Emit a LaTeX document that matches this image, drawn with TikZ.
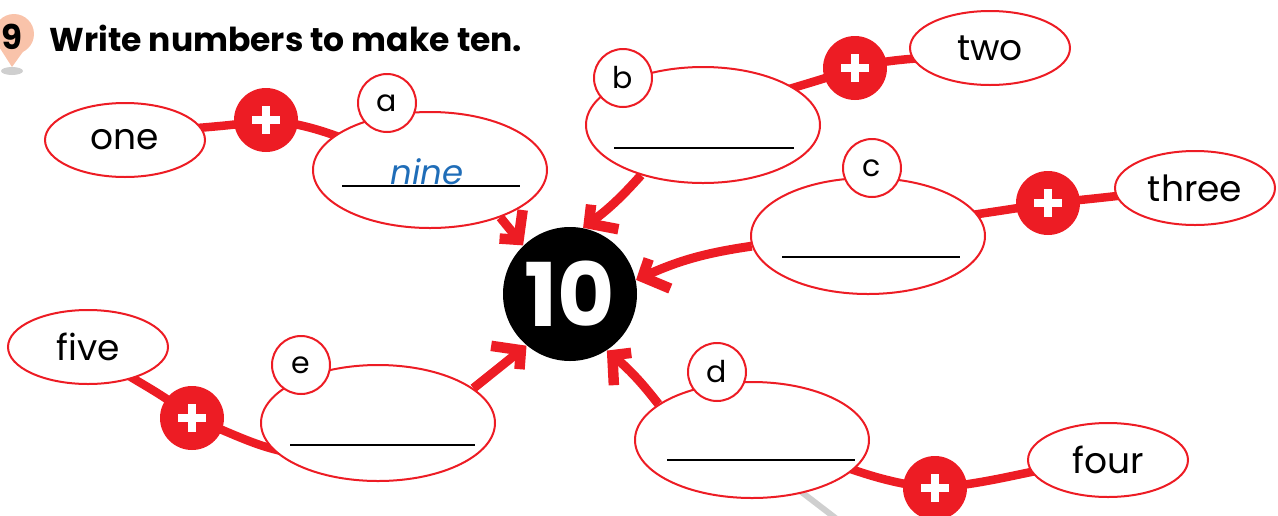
\documentclass[tikz,border=0pt]{standalone}
\usepackage{fontspec}
\setmainfont{Poppins}
\usetikzlibrary{arrows.meta,shapes.geometric,decorations.markings,calc}
\definecolor{myred}{HTML}{ED1C24}
\definecolor{peach}{HTML}{F9C3AA}
\definecolor{pingrey}{HTML}{CFCFCF}
\definecolor{nineblue}{HTML}{1F6DB8}
\pgfdeclarelayer{bg}
\pgfsetlayers{bg,main}
\begin{document}
\begin{tikzpicture}[x=1pt,y=1pt,
  bub/.style={ellipse,draw=myred,line width=2pt,fill=white,inner sep=0pt},
  word/.style={bub,minimum width=160pt,minimum height=74pt,font=\fontsize{36}{36}\selectfont},
  blank/.style={bub,minimum width=234pt,minimum height=116pt},
  lab/.style={circle,draw=myred,line width=2pt,fill=white,minimum size=58pt,inner sep=0pt,font=\fontsize{30}{30}\selectfont},
  plus/.style={circle,fill=myred,minimum size=64pt,inner sep=0pt},
  link/.style={myred,line width=8.5pt},
  arr/.style={myred,line width=9pt,shorten >=11pt,
    postaction={decorate},
    decoration={markings,mark=at position 1 with {
      \draw[myred,line width=10.5pt,line join=miter,miter limit=10,line cap=butt]
        (-28pt,22pt) -- (-7.5pt,0pt) -- (-28pt,-22pt);}}},
  uline/.style={black,line width=1.5pt}
]
\useasboundingbox (0,0) rectangle (1278,-515);
% pin and title
\fill[pingrey] (12,-71) ellipse (11pt and 4pt);
\fill[peach] (14,-34) circle (20pt);
\fill[peach] (-4,-42) -- (12,-67) -- (30,-42) -- cycle;
\node[font=\fontsize{34}{34}\selectfont\bfseries] (num) at (12,-37) {9};
\node[anchor=west,font=\fontsize{33}{33}\selectfont\bfseries] (title) at (46,-38) {Write numbers to make ten.};
% centre
\node[circle,fill=black,minimum size=134pt,inner sep=0pt,text=white,font=\fontsize{88}{88}\selectfont\bfseries] (ten) at (570,-294) {10};
% blank answer ellipses
\node[blank] (a) at (430,-170) {};
\node[blank] (b) at (703,-125) {};
\node[blank] (c) at (868,-236) {};
\node[blank] (d) at (752,-440) {};
\node[blank] (e) at (378,-423) {};
% letter circles
\node[lab] (la) at (387,-103) {a};
\node[lab] (lb) at (623,-78) {b};
\node[lab] (lc) at (872,-168) {c};
\node[lab] (ld) at (717,-372) {d};
\node[lab] (le) at (301,-365) {e};
% answer lines
\draw[uline] (342,-186) -- (520,-186);
\draw[uline] (614,-148) -- (794,-148);
\draw[uline] (782,-257) -- (960,-257);
\draw[uline] (667,-460) -- (855,-460);
\draw[uline] (290,-445) -- (475,-445);
\node[text=nineblue,font=\fontsize{34}{34}\selectfont\itshape,anchor=base] (nine) at (427,-184) {nine};
% plus nodes
\node[plus] (p1) at (266,-120) {};
\node[plus] (p2) at (855,-68) {};
\node[plus] (p3) at (1048,-203) {};
\node[plus] (p4) at (935,-488) {};
\node[plus] (p5) at (192,-418) {};
\foreach \p in {p1,p2,p3,p4,p5}{
  \fill[white] (\p) ++(-14,-4) rectangle ++(28,8);
  \fill[white] (\p) ++(-4,-14) rectangle ++(8,28);
}
% word nodes
\node[word] (one) at (125,-140) {one};
\node[word] (two) at (990,-48) {two};
\node[word] (three) at (1195,-188) {three};
\node[word] (four) at (1108,-460) {four};
\node[word] (five) at (88,-347) {five};
% links and arrows underneath
\begin{pgfonlayer}{bg}
\draw[link] (one.center) to[out=15,in=190] (p1.center) to[out=-5,in=165] (a.center);
\draw[link] (b.center) to[out=30,in=200] (p2.center) to[out=15,in=195] (two.center);
\draw[link] (c.center) to[out=15,in=190] (p3.center) to[out=5,in=185] (three.center);
\draw[link] (d.center) to[out=-10,in=175] (p4.center) to[out=5,in=185] (four.center);
\draw[link] (five.center) to[out=-40,in=140] (p5.center) to[out=-20,in=175] ($(e.205)!0.2!(e.center)$);
\draw[arr] (a.326) -- (ten.134);
\draw[arr] (b.219) to[bend left=6] (ten.79);
\draw[arr] (c.185) to[bend right=8] (ten.12);
\draw[arr] (d.159) to[bend right=6] (ten.303);
\draw[arr] (e.20) -- (ten.230);
\draw[pingrey,line width=6pt] (795,-487) -- (838,-520);
\end{pgfonlayer}
\end{tikzpicture}
\end{document}
